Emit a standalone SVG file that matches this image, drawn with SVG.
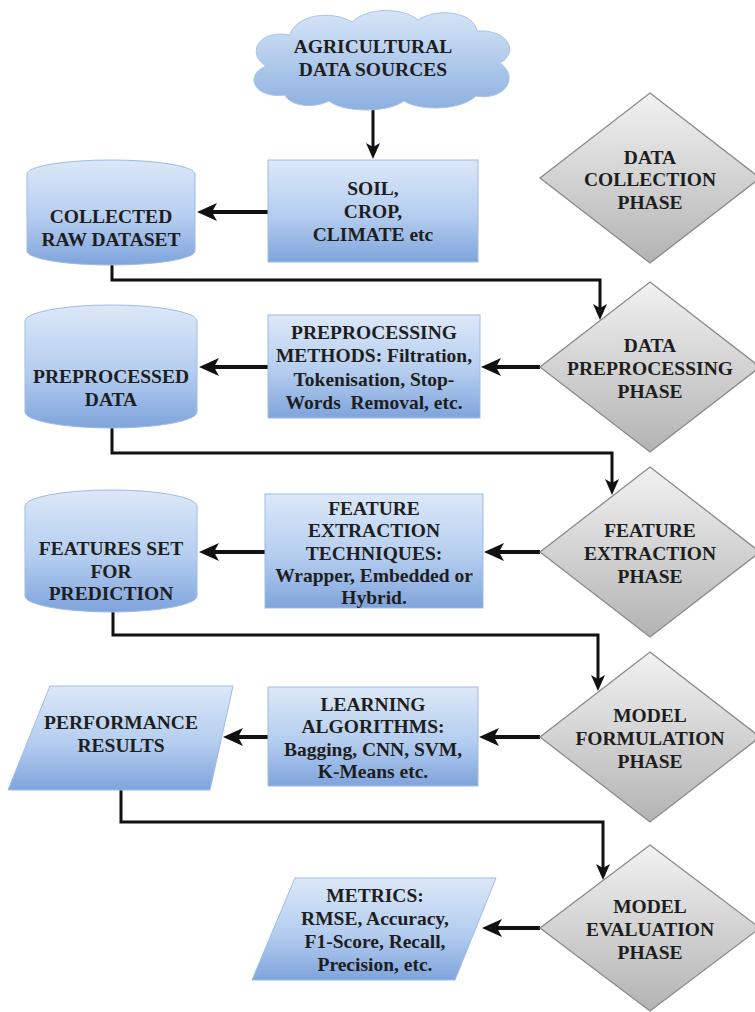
<svg xmlns="http://www.w3.org/2000/svg" width="755" height="1012" viewBox="0 0 755 1012">
<defs>
<linearGradient id="gBlue" x1="0" y1="0" x2="0" y2="1">
<stop offset="0" stop-color="#dce8f8"/>
<stop offset="0.55" stop-color="#b4cdef"/>
<stop offset="1" stop-color="#7fa4dc"/>
</linearGradient>
<linearGradient id="gCloud" x1="0" y1="0" x2="0" y2="1">
<stop offset="0" stop-color="#d6e5f7"/>
<stop offset="1" stop-color="#8db0e0"/>
</linearGradient>
<linearGradient id="gGrey" x1="0" y1="0" x2="0" y2="1">
<stop offset="0" stop-color="#f2f2f2"/>
<stop offset="1" stop-color="#b3b3b3"/>
</linearGradient>
<marker id="ah" markerUnits="userSpaceOnUse" markerWidth="20" markerHeight="18" refX="5" refY="9" orient="auto">
<path d="M0,0 L20,9 L0,18 L5,9 Z" fill="#111"/>
</marker>
<marker id="av" markerUnits="userSpaceOnUse" markerWidth="16" markerHeight="14" refX="4" refY="7" orient="auto">
<path d="M0,0 L16,7 L0,14 L4,7 Z" fill="#111"/>
</marker>
</defs>
<style>
.blue{fill:url(#gBlue);stroke:#9fbbe6;stroke-width:1}
.cloud{fill:url(#gCloud);stroke:#a9c3ea;stroke-width:1}
.dia{fill:url(#gGrey);stroke:#8a8a8a;stroke-width:1.3}
.t{font-family:'Liberation Serif','DejaVu Serif',serif;font-weight:700;font-size:19.5px;fill:#1e1e1e;text-anchor:middle}
.h{fill:none;stroke:#111;stroke-width:4;marker-end:url(#ah)}
.v{fill:none;stroke:#111;stroke-width:3;marker-end:url(#av)}
</style>

<g id="connectors">
<line class="v" x1="373" y1="106" x2="373" y2="147"/>
<line class="h" x1="268" y1="212" x2="212" y2="212"/>
<path class="v" d="M112,265 V280 H600 V308"/>
<line class="h" x1="268" y1="367" x2="214" y2="367"/>
<line class="h" x1="540" y1="367" x2="496" y2="367"/>
<path class="v" d="M112,428 V453 H612 V483"/>
<line class="h" x1="265" y1="552" x2="214" y2="552"/>
<line class="h" x1="540" y1="552" x2="499" y2="552"/>
<path class="v" d="M113,612 V635 H598 V679"/>
<line class="h" x1="268" y1="737" x2="238" y2="737"/>
<line class="h" x1="540" y1="737" x2="494" y2="737"/>
<path class="v" d="M121,790 V822 H603 V868"/>
<line class="h" x1="540" y1="928" x2="497" y2="928"/>
</g>

<g class="t">
<g id="agricultural-data-sources">
<path class="cloud" d="M285,95 C255,99 243,76 266,66 C246,54 258,29 290,35 C296,14 332,10 352,22 C368,7 402,7 418,20 C438,7 474,12 477,31 C508,29 520,52 500,63 C520,77 505,101 476,96 C460,111 420,111 404,101 C388,113 344,113 329,101 C313,109 290,106 285,95 Z"/>
<text x="373" y="53">AGRICULTURAL</text>
<text x="373" y="76">DATA SOURCES</text>
</g>

<g id="soil-crop-climate">
<rect class="blue" x="268" y="160" width="210" height="102"/>
<text x="373" y="195">SOIL,</text>
<text x="373" y="218">CROP,</text>
<text x="373" y="241">CLIMATE etc</text>
</g>

<g id="collected-raw-dataset">
<path class="blue" d="M27,174 A84,14 0 0 1 195,174 L195,251 A84,14 0 0 1 27,251 Z"/>
<text x="111" y="223">COLLECTED</text>
<text x="111" y="246">RAW DATASET</text>
</g>

<g id="data-collection-phase">
<polygon class="dia" points="650,93 760,178 650,263 540,178"/>
<text x="650" y="164">DATA</text>
<text x="650" y="186">COLLECTION</text>
<text x="650" y="209">PHASE</text>
</g>

<g id="data-preprocessing-phase">
<polygon class="dia" points="650,282 760,367 650,452 540,367"/>
<text x="650" y="352">DATA</text>
<text x="650" y="375">PREPROCESSING</text>
<text x="650" y="398">PHASE</text>
</g>

<g id="preprocessing-methods">
<rect class="blue" x="268" y="315" width="212" height="103"/>
<text x="374" y="339">PREPROCESSING</text>
<text x="374" y="362">METHODS: Filtration,</text>
<text x="374" y="386">Tokenisation, Stop-</text>
<text x="374" y="409" xml:space="preserve">Words  Removal, etc.</text>
</g>

<g id="preprocessed-data">
<path class="blue" d="M25,321 A86,16 0 0 1 197,321 L197,412 A86,16 0 0 1 25,412 Z"/>
<text x="111" y="383">PREPROCESSED</text>
<text x="111" y="406">DATA</text>
</g>

<g id="feature-extraction-phase">
<polygon class="dia" points="650,467 760,552 650,637 540,552"/>
<text x="650" y="537">FEATURE</text>
<text x="650" y="560">EXTRACTION</text>
<text x="650" y="583">PHASE</text>
</g>

<g id="feature-extraction-techniques">
<rect class="blue" x="265" y="494" width="218" height="114"/>
<text x="374" y="515">FEATURE</text>
<text x="374" y="537">EXTRACTION</text>
<text x="374" y="560">TECHNIQUES:</text>
<text x="374" y="582">Wrapper, Embedded or</text>
<text x="374" y="604">Hybrid.</text>
</g>

<g id="features-set-for-prediction">
<path class="blue" d="M25,506 A86,16 0 0 1 197,506 L197,596 A86,16 0 0 1 25,596 Z"/>
<text x="111" y="555">FEATURES SET</text>
<text x="111" y="578">FOR</text>
<text x="111" y="600">PREDICTION</text>
</g>

<g id="model-formulation-phase">
<polygon class="dia" points="650,652 760,737 650,822 540,737"/>
<text x="650" y="722">MODEL</text>
<text x="650" y="745">FORMULATION</text>
<text x="650" y="768">PHASE</text>
</g>

<g id="learning-algorithms">
<rect class="blue" x="268" y="687" width="210" height="99"/>
<text x="373" y="711">LEARNING</text>
<text x="373" y="733">ALGORITHMS:</text>
<text x="373" y="756">Bagging, CNN, SVM,</text>
<text x="373" y="778">K-Means etc.</text>
</g>

<g id="performance-results">
<polygon class="blue" points="50,686 233,686 210,790 8,790"/>
<text x="121" y="729">PERFORMANCE</text>
<text x="121" y="752">RESULTS</text>
</g>

<g id="model-evaluation-phase">
<polygon class="dia" points="650,845 760,928 650,1011 540,928"/>
<text x="650" y="913">MODEL</text>
<text x="650" y="936">EVALUATION</text>
<text x="650" y="959">PHASE</text>
</g>

<g id="metrics">
<polygon class="blue" points="295,878 496,878 455,980 252,980"/>
<text x="375" y="902">METRICS:</text>
<text x="375" y="925">RMSE, Accuracy,</text>
<text x="375" y="948">F1-Score, Recall,</text>
<text x="375" y="971">Precision, etc.</text>
</g>
</g>
</svg>
